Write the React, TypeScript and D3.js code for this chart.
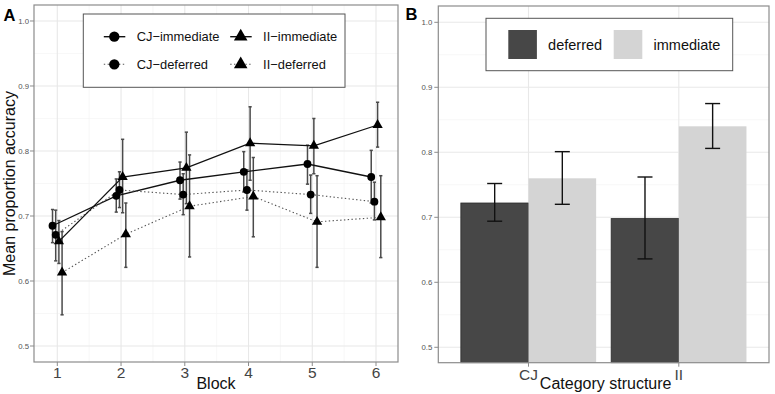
import React from 'react';
import * as d3 from 'd3';

// Panel A: accuracy per block for each condition
const blocks = [1, 2, 3, 4, 5, 6];
const seriesNames = ['CJ-immediate', 'CJ-deferred', 'II-immediate', 'II-deferred'];
const cjImmediateMean = [0.685, 0.731, 0.755, 0.768, 0.78, 0.76];
const cjImmediateLow = [0.659, 0.706, 0.726, 0.737, 0.749, 0.72];
const cjImmediateHigh = [0.71, 0.757, 0.783, 0.799, 0.809, 0.801];
const cjDeferredMean = [0.671, 0.74, 0.733, 0.74, 0.733, 0.722];
const cjDeferredLow = [0.631, 0.713, 0.702, 0.709, 0.704, 0.694];
const cjDeferredHigh = [0.709, 0.768, 0.765, 0.771, 0.763, 0.752];
const iiImmediateMean = [0.661, 0.76, 0.774, 0.812, 0.808, 0.84];
const iiImmediateLow = [0.627, 0.705, 0.719, 0.755, 0.765, 0.806];
const iiImmediateHigh = [0.693, 0.818, 0.829, 0.868, 0.85, 0.875];
const iiDeferredMean = [0.613, 0.672, 0.715, 0.73, 0.691, 0.698];
const iiDeferredLow = [0.548, 0.621, 0.637, 0.668, 0.621, 0.636];
const iiDeferredHigh = [0.676, 0.72, 0.794, 0.79, 0.762, 0.762];

// Panel B: final-block accuracy by category structure
const categories = ['CJ', 'II'];
const conditions = ['deferred', 'immediate'];
const deferredMean = [0.722, 0.698];
const deferredLow = [0.694, 0.636];
const deferredHigh = [0.752, 0.762];
const immediateMean = [0.76, 0.84];
const immediateLow = [0.72, 0.806];
const immediateHigh = [0.801, 0.875];

const yTicks = [0.5, 0.6, 0.7, 0.8, 0.9, 1.0];
const yMinor = [0.55, 0.65, 0.75, 0.85, 0.95];

const FONT = '"Liberation Sans", Arial, sans-serif';

type Series = {
  name: string;
  mean: number[];
  low: number[];
  high: number[];
  shape: 'circle' | 'triangle';
  dotted: boolean;
};

const series: Series[] = [
  { name: seriesNames[0], mean: cjImmediateMean, low: cjImmediateLow, high: cjImmediateHigh, shape: 'circle', dotted: false },
  { name: seriesNames[1], mean: cjDeferredMean, low: cjDeferredLow, high: cjDeferredHigh, shape: 'circle', dotted: true },
  { name: seriesNames[2], mean: iiImmediateMean, low: iiImmediateLow, high: iiImmediateHigh, shape: 'triangle', dotted: false },
  { name: seriesNames[3], mean: iiDeferredMean, low: iiDeferredLow, high: iiDeferredHigh, shape: 'triangle', dotted: true },
];

const frameColor = '#8c8c8c';
const majorGrid = '#e8e8e8';
const minorGrid = '#f3f3f3';
const dotDash = '1.4,2.4';

function symbolPath(shape: 'circle' | 'triangle', size: number) {
  const t = shape === 'circle' ? d3.symbolCircle : d3.symbolTriangle;
  return d3.symbol().type(t).size(size)() as string;
}

function PanelA() {
  const left = 34, right = 398, top = 5, bottom = 362;
  const x = d3.scaleLinear().domain([0.6345, 6.345]).range([left, right]);
  const y = d3.scaleLinear().domain([0.4754, 1.0246]).range([bottom, top]);
  const dodge = (i: number) => (i - 1.5) * 0.05;
  const xMinor = [1.5, 2.5, 3.5, 4.5, 5.5];

  return (
    <g>
      {yMinor.map((v) => (
        <line key={'ym' + v} x1={left} x2={right} y1={y(v)} y2={y(v)} stroke={minorGrid} strokeWidth={0.7} />
      ))}
      {xMinor.map((v) => (
        <line key={'xm' + v} x1={x(v)} x2={x(v)} y1={top} y2={bottom} stroke={minorGrid} strokeWidth={0.7} />
      ))}
      {yTicks.map((v) => (
        <line key={'yg' + v} x1={left} x2={right} y1={y(v)} y2={y(v)} stroke={majorGrid} strokeWidth={1.1} />
      ))}
      {blocks.map((b) => (
        <line key={'xg' + b} x1={x(b)} x2={x(b)} y1={top} y2={bottom} stroke={majorGrid} strokeWidth={1.1} />
      ))}

      {/* error bars */}
      {series.map((s, si) =>
        blocks.map((b, bi) => {
          const cx = x(b + dodge(si));
          return (
            <g key={s.name + b} stroke="#4a4a4a" strokeWidth={1.5}>
              <line x1={cx} x2={cx} y1={y(s.low[bi])} y2={y(s.high[bi])} />
              <line x1={cx - 1.6} x2={cx + 1.6} y1={y(s.low[bi])} y2={y(s.low[bi])} />
              <line x1={cx - 1.6} x2={cx + 1.6} y1={y(s.high[bi])} y2={y(s.high[bi])} />
            </g>
          );
        })
      )}

      {/* lines */}
      {series.map((s, si) => {
        const line = d3
          .line<number>()
          .x((_, i) => x(blocks[i] + dodge(si)))
          .y((v) => y(v));
        return (
          <path
            key={'l' + s.name}
            d={line(s.mean) as string}
            fill="none"
            stroke={s.dotted ? '#555' : '#111'}
            strokeWidth={s.dotted ? 1.1 : 1.3}
            strokeDasharray={s.dotted ? dotDash : undefined}
          />
        );
      })}

      {/* points */}
      {series.map((s, si) =>
        s.mean.map((v, i) => (
          <path
            key={'p' + s.name + i}
            d={symbolPath(s.shape, s.shape === 'circle' ? 48 : 46)}
            transform={`translate(${x(blocks[i] + dodge(si))},${y(v)})`}
            fill="#000"
          />
        ))
      )}

      <rect x={left} y={top} width={right - left} height={bottom - top} fill="none" stroke={frameColor} strokeWidth={1.2} />

      {/* y axis */}
      {yTicks.map((v) => (
        <g key={'yt' + v}>
          <line x1={left - 4} x2={left} y1={y(v)} y2={y(v)} stroke={frameColor} strokeWidth={1} />
          <text x={left - 5} y={y(v) + 2.8} textAnchor="end" fontSize={7.8} fill="#555" fontFamily={FONT}>
            {v.toFixed(1)}
          </text>
        </g>
      ))}
      {/* x axis */}
      {blocks.map((b) => (
        <g key={'xt' + b}>
          <line x1={x(b)} x2={x(b)} y1={bottom} y2={bottom + 4} stroke={frameColor} strokeWidth={1} />
          <text x={x(b)} y={378} textAnchor="middle" fontSize={15.5} fill="#444" fontFamily={FONT}>
            {b}
          </text>
        </g>
      ))}
      <text x={(left + right) / 2} y={389} textAnchor="middle" fontSize={16} fill="#111" fontFamily={FONT}>
        Block
      </text>
      <text
        transform={`translate(15,${(top + bottom) / 2}) rotate(-90)`}
        textAnchor="middle"
        fontSize={16}
        fill="#111"
        fontFamily={FONT}
      >
        Mean proportion accuracy
      </text>

      {/* legend */}
      <rect x={83.3} y={14} width={261.7} height={73.3} fill="#fff" stroke="#555" strokeWidth={1} />
      {series.map((s) => {
        const col = s.shape === 'circle' ? 0 : 1;
        const row = s.dotted ? 1 : 0;
        const kx = col === 0 ? 114.3 : 240.7;
        const ky = row === 0 ? 36.7 : 64.3;
        return (
          <g key={'lg' + s.name}>
            <line
              x1={kx - 10.5}
              x2={kx + 11}
              y1={ky}
              y2={ky}
              stroke={s.dotted ? '#555' : '#111'}
              strokeWidth={s.dotted ? 1.1 : 1.4}
              strokeDasharray={s.dotted ? dotDash : undefined}
            />
            <path
              d={symbolPath(s.shape, s.shape === 'circle' ? 84 : 80)}
              transform={`translate(${kx},${ky})`}
              fill="#000"
            />
            <text x={kx + 22.4} y={ky + 4.6} fontSize={12.9} fill="#111" fontFamily={FONT}>
              {s.name.replace('-', '\u2212')}
            </text>
          </g>
        );
      })}

      <text x={3.5} y={20.8} fontSize={16.5} fontWeight="bold" fill="#000" fontFamily={FONT}>
        A
      </text>
    </g>
  );
}

function PanelB() {
  const left = 438.3, right = 769, top = 6, bottom = 362.7;
  const x = d3.scaleLinear().domain([0.4, 2.6]).range([left, right]);
  const y = d3.scaleLinear().domain([0.4763, 1.0251]).range([bottom, top]);
  const sub = d3.scaleBand().domain(conditions).range([-0.45, 0.45]);
  const fills: Record<string, string> = { deferred: '#474747', immediate: '#d4d4d4' };
  const means: Record<string, number[]> = { deferred: deferredMean, immediate: immediateMean };
  const lows: Record<string, number[]> = { deferred: deferredLow, immediate: immediateLow };
  const highs: Record<string, number[]> = { deferred: deferredHigh, immediate: immediateHigh };

  return (
    <g>
      {yMinor.map((v) => (
        <line key={'ym' + v} x1={left} x2={right} y1={y(v)} y2={y(v)} stroke={minorGrid} strokeWidth={0.7} />
      ))}
      {yTicks.map((v) => (
        <line key={'yg' + v} x1={left} x2={right} y1={y(v)} y2={y(v)} stroke={majorGrid} strokeWidth={1.1} />
      ))}
      {categories.map((c, ci) => (
        <line key={'xg' + c} x1={x(ci + 1)} x2={x(ci + 1)} y1={top} y2={bottom} stroke={majorGrid} strokeWidth={1.1} />
      ))}

      {categories.map((c, ci) =>
        conditions.map((cond) => {
          const x0 = x(ci + 1 + (sub(cond) as number));
          const x1 = x(ci + 1 + (sub(cond) as number) + sub.bandwidth());
          const v = means[cond][ci];
          return (
            <rect
              key={c + cond}
              x={x0}
              y={y(v)}
              width={x1 - x0}
              height={bottom - y(v)}
              fill={fills[cond]}
              stroke={cond === 'deferred' ? '#2b2b2b' : 'none'}
              strokeWidth={0.8}
            />
          );
        })
      )}
      {categories.map((c, ci) =>
        conditions.map((cond) => {
          const cx = x(ci + 1 + (sub(cond) as number) + sub.bandwidth() / 2);
          const lo = y(lows[cond][ci]);
          const hi = y(highs[cond][ci]);
          return (
            <g key={'e' + c + cond} stroke="#111" strokeWidth={1.4}>
              <line x1={cx} x2={cx} y1={lo} y2={hi} />
              <line x1={cx - 7.5} x2={cx + 7.5} y1={lo} y2={lo} />
              <line x1={cx - 7.5} x2={cx + 7.5} y1={hi} y2={hi} />
            </g>
          );
        })
      )}

      <rect x={left} y={top} width={right - left} height={bottom - top} fill="none" stroke={frameColor} strokeWidth={1.2} />

      {yTicks.map((v) => (
        <g key={'yt' + v}>
          <line x1={left - 4} x2={left} y1={y(v)} y2={y(v)} stroke={frameColor} strokeWidth={1} />
          <text x={left - 6} y={y(v) + 2.8} textAnchor="end" fontSize={7.8} fill="#555" fontFamily={FONT}>
            {v.toFixed(1)}
          </text>
        </g>
      ))}
      {categories.map((c, ci) => (
        <g key={'xt' + c}>
          <line x1={x(ci + 1)} x2={x(ci + 1)} y1={bottom} y2={bottom + 4} stroke={frameColor} strokeWidth={1} />
          <text x={x(ci + 1)} y={380} textAnchor="middle" fontSize={15.5} fill="#444" fontFamily={FONT}>
            {c}
          </text>
        </g>
      ))}
      <text x={(left + right) / 2 + 2} y={389} textAnchor="middle" fontSize={16} fill="#111" fontFamily={FONT}>
        Category structure
      </text>

      {/* legend */}
      <rect x={486} y={18.3} width={246.7} height={52.4} fill="#fff" stroke="#555" strokeWidth={1} />
      {conditions.map((cond, i) => {
        const kx = i === 0 ? 508.3 : 613.7;
        return (
          <g key={'lg' + cond}>
            <rect x={kx} y={30} width={28.6} height={29} fill={fills[cond]} />
            <text x={kx + 39.8} y={50} fontSize={14.5} fill="#111" fontFamily={FONT}>
              {cond}
            </text>
          </g>
        );
      })}

      <text x={405.5} y={20} fontSize={16.5} fontWeight="bold" fill="#000" fontFamily={FONT}>
        B
      </text>
    </g>
  );
}

export default function App() {
  return (
    <svg
      width={775}
      height={394}
      viewBox="0 0 775 394"
      style={{ position: 'absolute', left: 0, top: 0, background: '#fff' }}
    >
      <rect x={0} y={0} width={775} height={394} fill="#fff" />
      <PanelA />
      <PanelB />
    </svg>
  );
}
